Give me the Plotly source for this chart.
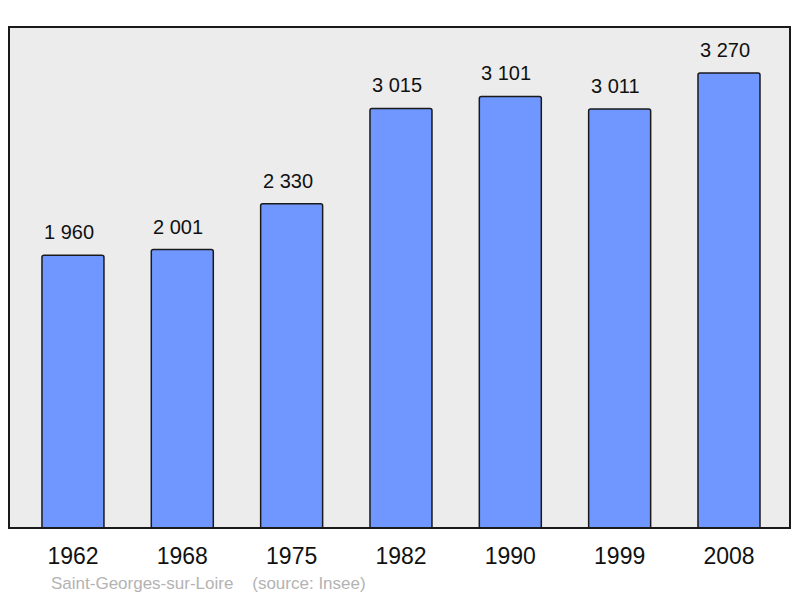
import plotly.graph_objects as go

years = ["1962", "1968", "1975", "1982", "1990", "1999", "2008"]
population = [1960, 2001, 2330, 3015, 3101, 3011, 3270]
source_text = "Saint-Georges-sur-Loire    (source: Insee)"

FONT = "Liberation Sans, Arial, sans-serif"

fig = go.Figure()
fig.add_trace(go.Bar(
    x=years, y=population,
    width=0.567,
    marker=dict(color="#7097ff", line=dict(color="#1a1a1a", width=1.5), cornerradius=2),
    hoverinfo="skip",
))

annotations = [
    dict(x=i, y=v, xref="x", yref="y", text=f"{v:,}".replace(",", " "),
         showarrow=False, xanchor="center", yanchor="bottom", yshift=10, xshift=-4,
         font=dict(family=FONT, size=20, color="#111"))
    for i, v in enumerate(population)
]
annotations.append(dict(text=source_text, xref="paper", yref="paper", x=40 / 781, y=-0.11,
                        xanchor="left", yanchor="middle", showarrow=False,
                        font=dict(family=FONT, size=17, color="#b3b3b3")))

fig.update_layout(
    width=792, height=590,
    margin=dict(l=1, r=10, t=19, b=70),
    paper_bgcolor="white", plot_bgcolor="#ececec",
    showlegend=False,
    xaxis=dict(type="category", range=[-0.585, 6.558], showgrid=False, zeroline=False,
               tickfont=dict(family=FONT, size=23, color="#111"),
               ticks="", ticklabelstandoff=12),
    yaxis=dict(range=[0, 3600], showgrid=False, zeroline=False, showticklabels=False, ticks=""),
    shapes=[dict(type="rect", xref="paper", yref="paper", x0=0, x1=1, y0=0, y1=1,
                 line=dict(color="#1a1a1a", width=2), layer="above")],
    annotations=annotations,
)

fig.write_html("out.html")
